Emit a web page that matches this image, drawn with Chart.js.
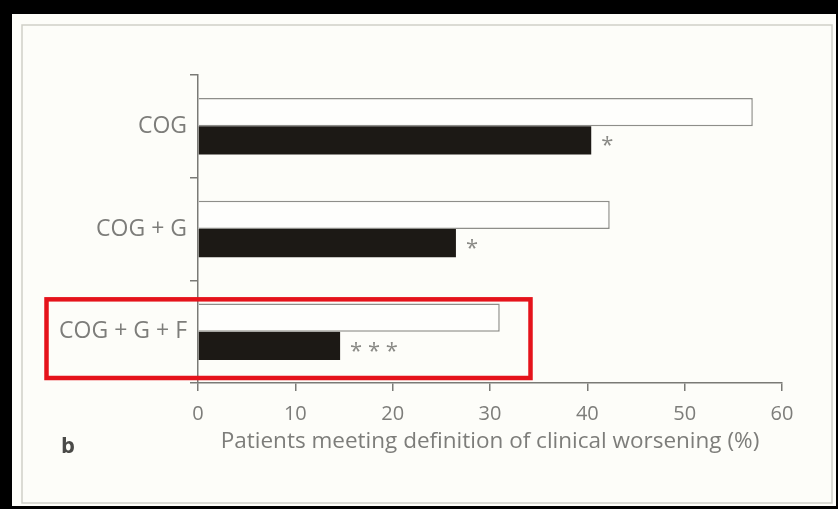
<!DOCTYPE html>
<html>
<head>
<meta charset="utf-8">
<script src="https://cdn.jsdelivr.net/npm/chart.js@4.4.1/dist/chart.umd.min.js"></script>
<style>
  html, body { margin: 0; padding: 0; background: #000; overflow: hidden; }
  #wrap { position: relative; width: 838px; height: 509px; }
  canvas { display: block; }
</style>
</head>
<body>
<div id="wrap"><canvas id="chart" width="838" height="509"></canvas></div>
<script>
// Treatment groups and share of patients meeting the clinical-worsening definition (%)
const categories = ['COG', 'COG + G', 'COG + G + F'];
const openBarValues = [57.0, 42.3, 31.0];
const solidBarValues = [40.4, 26.5, 14.6];
const significanceMarks = ['*', '*', '* * *'];
const xTickValues = [0, 10, 20, 30, 40, 50, 60];
const xAxisTitle = 'Patients meeting definition of clinical worsening (%)';
const panelLetter = 'b';

const TEXT_GREY = '#7d7d7a';
const AXIS_GREY = '#7a7a76';
const FONT = '"Open Sans", "Liberation Sans", sans-serif';

// Figure panel: black surround, off-white sheet, thin grey frame
const panelBackground = {
  id: 'panelBackground',
  beforeDraw(chart) {
    const ctx = chart.ctx;
    ctx.save();
    ctx.fillStyle = '#000';
    ctx.fillRect(0, 0, chart.width, chart.height);
    ctx.fillStyle = '#fdfdf9';
    ctx.fillRect(12, 14, 824, 492);
    ctx.strokeStyle = '#cfcfc8';
    ctx.lineWidth = 1.5;
    ctx.strokeRect(22, 25, 810, 478);
    ctx.restore();
  }
};

// Significance asterisks placed just past the end of each solid bar
const significanceLabels = {
  id: 'significanceLabels',
  afterDatasetsDraw(chart) {
    const ctx = chart.ctx;
    const meta = chart.getDatasetMeta(1);
    ctx.save();
    ctx.fillStyle = '#8a8a86';
    ctx.font = '22px ' + FONT;
    ctx.textAlign = 'left';
    ctx.textBaseline = 'alphabetic';
    meta.data.forEach((bar, i) => {
      ctx.fillText(significanceMarks[i], bar.x + 10, bar.y + 12);
    });
    ctx.restore();
  }
};

// Panel letter and the red highlight box around the third group
const annotations = {
  id: 'annotations',
  afterDraw(chart) {
    const ctx = chart.ctx;
    ctx.save();
    ctx.fillStyle = '#4a4a48';
    ctx.font = 'bold 22px ' + FONT;
    ctx.textAlign = 'left';
    ctx.textBaseline = 'alphabetic';
    ctx.fillText(panelLetter, 61, 453);

    const y = chart.scales.y;
    const step = (y.bottom - y.top) / categories.length;
    const top = y.top + step * 2 + 19;
    ctx.strokeStyle = '#e5131b';
    ctx.lineWidth = 4.5;
    ctx.strokeRect(46.5, top, 484, y.bottom - 5 - top);
    ctx.restore();
  }
};

new Chart(document.getElementById('chart'), {
  type: 'bar',
  data: {
    labels: categories,
    datasets: [
      {
        data: openBarValues,
        backgroundColor: '#fefefc',
        borderColor: '#8e8e8a',
        borderWidth: 1.5,
        categoryPercentage: 0.55,
        barPercentage: 1.0
      },
      {
        data: solidBarValues,
        backgroundColor: '#1c1915',
        borderWidth: 0,
        categoryPercentage: 0.55,
        barPercentage: 1.0
      }
    ]
  },
  options: {
    indexAxis: 'y',
    responsive: false,
    devicePixelRatio: 1,
    animation: false,
    layout: { padding: { top: 75, right: 56, left: 0, bottom: 0 } },
    plugins: {
      legend: { display: false },
      tooltip: { enabled: false }
    },
    scales: {
      x: {
        type: 'linear',
        min: xTickValues[0],
        max: xTickValues[xTickValues.length - 1],
        afterBuildTicks(scale) {
          scale.ticks = xTickValues.map(v => ({ value: v }));
        },
        afterFit(scale) { scale.height = 126; },
        grid: {
          drawOnChartArea: false,
          drawTicks: true,
          tickLength: 8,
          color: AXIS_GREY,
          lineWidth: 1.5
        },
        border: { display: true, color: AXIS_GREY, width: 1.5 },
        ticks: {
          color: TEXT_GREY,
          font: { family: FONT, size: 20 },
          padding: 11,
          maxRotation: 0
        },
        title: {
          display: true,
          text: xAxisTitle,
          color: TEXT_GREY,
          font: { family: FONT, size: 22.5 },
          padding: { top: 0, bottom: 54 }
        }
      },
      y: {
        type: 'category',
        offset: true,
        afterFit(scale) { scale.width = 198; },
        grid: {
          offset: true,
          drawOnChartArea: false,
          drawTicks: true,
          tickLength: 8,
          color: AXIS_GREY,
          lineWidth: 1.5
        },
        border: { display: true, color: AXIS_GREY, width: 1.5 },
        ticks: {
          color: TEXT_GREY,
          font: { family: FONT, size: 23 },
          padding: 3
        }
      }
    }
  },
  plugins: [panelBackground, significanceLabels, annotations]
});
</script>
</body>
</html>
